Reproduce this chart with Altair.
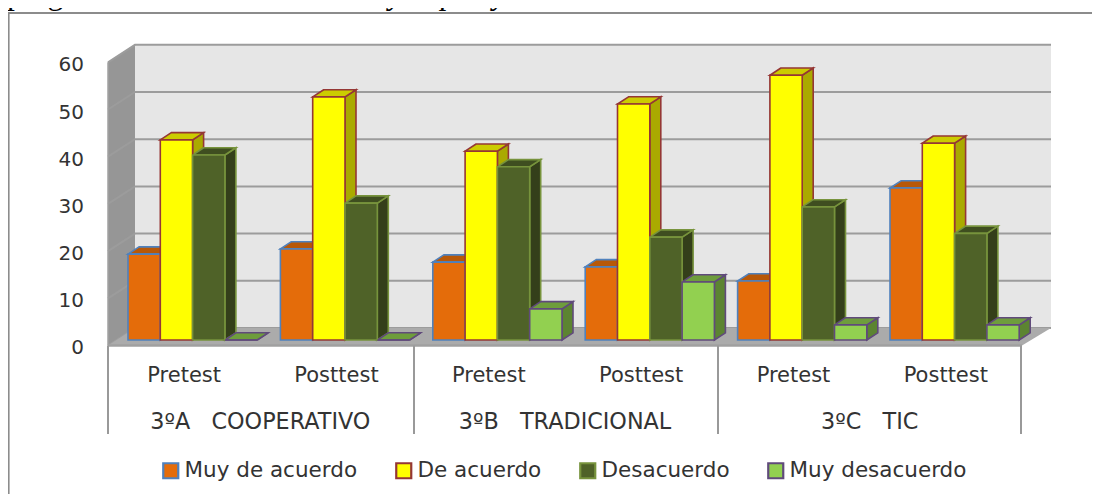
import altair as alt
import pandas as pd

series = ["Muy de acuerdo", "De acuerdo", "Desacuerdo", "Muy desacuerdo"]
tests = ["Pretest", "Posttest", "Pretest", "Posttest", "Pretest", "Posttest"]
groups = ["3ºA\u00a0\u00a0\u00a0COOPERATIVO", "3ºB\u00a0\u00a0\u00a0TRADICIONAL", "3ºC\u00a0\u00a0\u00a0TIC"]
muy_de_acuerdo = [18.2, 19.3, 16.5, 15.5, 12.5, 32.2]
de_acuerdo = [42.4, 51.5, 40.0, 50.0, 56.1, 41.7]
desacuerdo = [39.2, 29.0, 36.7, 21.8, 28.2, 22.6]
muy_desacuerdo = [0, 0, 6.6, 12.3, 3.2, 3.2]
y_ticks = [0, 10, 20, 30, 40, 50, 60]

front_fill = ["#E46C0A", "#FFFF00", "#4F6228", "#92D050"]
front_stroke = ["#4F81BD", "#953735", "#77933C", "#604A7B"]
side_fill = ["#A64F07", "#AAAA00", "#343F1A", "#5C8431"]
top_fill = ["#B85808", "#CCCC00", "#3F4E20", "#6E9D3C"]

W, H = 1084, 486
PX_X0, PX_UX = 128.0, 32.3   # page x of first bar, px per bar width
PX_Y0, PX_UY = 340.0, 4.72   # page y of value 0 at bar front, px per unit
PERIOD = 152.4 / PX_UX
DX, DY = 11 / PX_UX, 7.2 / PX_UY


def ux(px):
    return (px - PX_X0) / PX_UX


def uy(py):
    return (PX_Y0 - py) / PX_UY


xs = alt.Scale(domain=[ux(8), ux(8 + W)], nice=False, zero=False)
ys = alt.Scale(domain=[uy(8 + H), uy(8)], nice=False, zero=False)


def X(f="x"):
    return alt.X(f"{f}:Q", scale=xs, axis=None)


def Y(f="y"):
    return alt.Y(f"{f}:Q", scale=ys, axis=None)


all_vals = [muy_de_acuerdo, de_acuerdo, desacuerdo, muy_desacuerdo]
sides, tops, fronts = [], [], []
for s, vals in enumerate(all_vals):
    for i, v in enumerate(vals):
        left = i * PERIOD + s
        right = left + 1
        bid = f"{i}-{s}"
        sc = dict(bar=bid, series=series[s], side=side_fill[s], top=top_fill[s], line=front_stroke[s])
        sides.append(dict(sc, x=right, y=v, y2=0))
        sides.append(dict(sc, x=right + DX, y=v + DY, y2=DY))
        tops.append(dict(sc, y=v, x=left, x2=right))
        tops.append(dict(sc, y=v + DY, x=left + DX, x2=right + DX))
        fronts.append(dict(sc, x=left, x2=right, y=0, y2=v))

strokeW = 1.6
side_layer = alt.Chart(pd.DataFrame(sides)).mark_area(strokeWidth=strokeW, opacity=1).encode(
    x=X(), y=Y(), y2=alt.Y2("y2:Q"), detail="bar:N",
    fill=alt.Fill("side:N", scale=None), stroke=alt.Stroke("line:N", scale=None))
top_layer = alt.Chart(pd.DataFrame(tops)).mark_area(orient="horizontal", strokeWidth=strokeW, opacity=1).encode(
    y=Y(), x=X(), x2=alt.X2("x2:Q"), detail="bar:N",
    fill=alt.Fill("top:N", scale=None), stroke=alt.Stroke("line:N", scale=None))
legend = alt.Legend(
    title=None, orient="none", legendX=152, legendY=452, direction="horizontal", columns=4,
    symbolType="square", symbolSize=225, symbolStrokeWidth=2.2, labelFont="DejaVu Sans", labelFontSize=21.5,
    labelColor="#333333", labelOffset=3, columnPadding=33, gridAlign="none", labelLimit=300)
front_layer = alt.Chart(pd.DataFrame(fronts)).mark_rect(strokeWidth=strokeW).encode(
    x=X(), x2=alt.X2("x2:Q"), y=Y(), y2=alt.Y2("y2:Q"),
    fill=alt.Fill("series:N", scale=alt.Scale(domain=series, range=front_fill), legend=legend),
    stroke=alt.Stroke("series:N", scale=alt.Scale(domain=series, range=front_stroke), legend=legend))

# walls, floor, gridlines (a value v sits 5 px lower on the front edge than on a bar's base)
FX0, FX1, BX0, BX1 = ux(108), ux(1022), ux(135), ux(1051)
F0, B0 = uy(345.5), uy(328)
back = alt.Chart(pd.DataFrame([dict(x=BX0, x2=BX1, y=B0, y2=B0 + 60, k=0)])).mark_rect(color="#E6E6E6").encode(
    x=X(), x2=alt.X2("x2:Q"), y=Y(), y2=alt.Y2("y2:Q"))
wall = alt.Chart(pd.DataFrame([
    dict(x=FX0, y=F0 + 60, y2=F0), dict(x=BX0, y=B0 + 60, y2=B0)
])).mark_area(color="#969696", opacity=1).encode(x=X(), y=Y(), y2=alt.Y2("y2:Q"))
grid_rows = []
for t in y_ticks:
    grid_rows += [dict(t=t, x=FX0, y=F0 + t), dict(t=t, x=BX0, y=B0 + t), dict(t=t, x=BX1, y=B0 + t)]
grid = alt.Chart(pd.DataFrame(grid_rows)).mark_line(color="#9C9C9C", strokeWidth=2).encode(
    x=X(), y=Y(), detail="t:N")
floor = alt.Chart(pd.DataFrame([
    dict(y=F0, x=FX0, x2=FX1), dict(y=B0, x=BX0, x2=BX1)
])).mark_area(orient="horizontal", color="#ABABAB", opacity=1).encode(y=Y(), x=X(), x2=alt.X2("x2:Q"))
wall_edge = alt.Chart(pd.DataFrame([dict(x=FX0, y=F0 + 60), dict(x=FX0, y=F0)])).mark_line(
    color="#A0A0A0", strokeWidth=1.5).encode(x=X(), y=Y())
floor_edge = alt.Chart(pd.DataFrame([dict(x=FX0, x2=FX1, y=F0)])).mark_rule(color="#A0A0A0", strokeWidth=2.5).encode(
    x=X(), x2=alt.X2("x2:Q"), y=Y())
seps = alt.Chart(pd.DataFrame([dict(x=ux(p), y=F0, y2=uy(434)) for p in (108, 414, 718, 1021)])).mark_rule(
    color="#999999", strokeWidth=2).encode(x=X(), y=Y(), y2=alt.Y2("y2:Q"))

# text
BAND = (FX1 - FX0) / 6
tick_df = pd.DataFrame({"t": y_ticks, "y": [uy(348) + t * 47.1 / 10 / PX_UY for t in y_ticks], "x": [ux(84)] * 7})
tick_text = alt.Chart(tick_df).mark_text(
    font="DejaVu Sans", fontSize=20, align="right", baseline="middle", color="#333333").encode(
    x=X(), y=Y(), text="t:Q")
test_df = pd.DataFrame({"label": tests, "i": range(6)})
test_df["x"] = FX0 + BAND * (test_df["i"] + 0.5)
test_df["y"] = uy(376.4)
test_text = alt.Chart(test_df).mark_text(
    font="DejaVu Sans", fontSize=21, align="center", baseline="middle", color="#333333").encode(
    x=X(), y=Y(), text="label:N")
group_df = pd.DataFrame({"label": groups, "x": [FX0 + BAND * (2 * g + 1) for g in range(3)], "y": [uy(421.5)] * 3})
group_text = alt.Chart(group_df).mark_text(
    font="DejaVu Sans", fontSize=22.3, align="center", baseline="middle", color="#333333").encode(
    x=X(), y=Y(), text="label:N")

title_a = alt.Chart(pd.DataFrame({"t": ["pregunta 19"]})).mark_text(
    font="Liberation Serif", fontSize=31.7, align="left", baseline="alphabetic", color="#000000").encode(
    x=alt.value(-1), y=alt.value(-4), text="t:N")
title_b = alt.Chart(pd.DataFrame({"t": ["Me considero muy capaz y hábil en matemáticas."]})).mark_text(
    font="Liberation Serif", fontSize=31.7, fontStyle="italic", align="left", baseline="alphabetic",
    color="#000000").encode(x=alt.value(162), y=alt.value(-4), text="t:N")

frame_top = alt.Chart(pd.DataFrame({"k": [0]})).mark_rule(color="#8C8C8C", strokeWidth=2).encode(
    x=alt.value(0), x2=alt.value(W), y=alt.value(5))
frame_left = alt.Chart(pd.DataFrame({"k": [0]})).mark_rule(color="#8C8C8C", strokeWidth=2).encode(
    x=alt.value(0.6), y=alt.value(5), y2=alt.value(H))

chart = alt.layer(
    back, wall, grid, floor, wall_edge, floor_edge, seps,
    side_layer, top_layer, front_layer,
    tick_text, test_text, group_text, title_a, title_b, frame_top, frame_left,
).properties(
    width=W, height=H, padding=0, autosize=alt.AutoSizeParams(type="none"),
).configure_view(stroke=None)

chart.save("out.html", embed_options={"renderer": "svg", "actions": False})
